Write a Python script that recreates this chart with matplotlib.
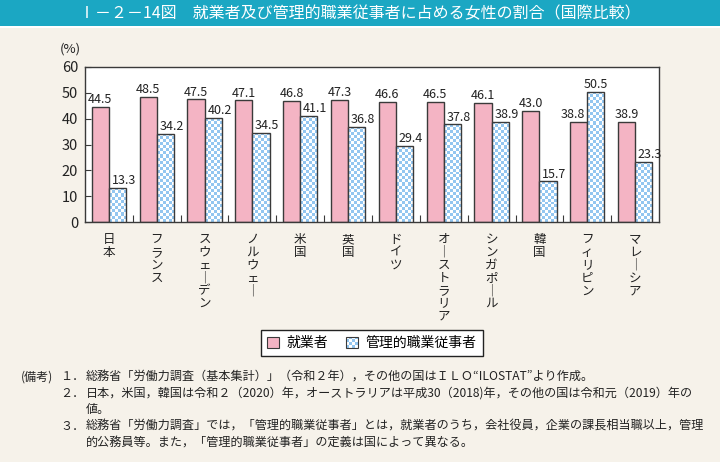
import numpy as np
import matplotlib
matplotlib.use("Agg")
import matplotlib.pyplot as plt
from matplotlib.patches import Rectangle
from matplotlib.legend_handler import HandlerBase

plt.rcParams['font.family'] = ['Noto Sans CJK JP', 'DejaVu Sans']

countries = ["日本", "フランス", "スウェーデン", "ノルウェー", "米国", "英国", "ドイツ",
             "オーストラリア", "シンガポール", "韓国", "フィリピン", "マレーシア"]
workers = [44.5, 48.5, 47.5, 47.1, 46.8, 47.3, 46.6, 46.5, 46.1, 43.0, 38.8, 38.9]
managers = [13.3, 34.2, 40.2, 34.5, 41.1, 36.8, 29.4, 37.8, 38.9, 15.7, 50.5, 23.3]
series_names = ["就業者", "管理的職業従事者"]
yticks = [0, 10, 20, 30, 40, 50, 60]

title = "Ⅰ－２－14図　就業者及び管理的職業従事者に占める女性の割合（国際比較）"
notes = [
    ("(備考)", "１．", "総務省「労働力調査（基本集計）」（令和２年），その他の国はＩＬＯ“ILOSTAT”より作成。"),
    ("", "２．", "日本，米国，韓国は令和２（2020）年，オーストラリアは平成30（2018)年，その他の国は令和元（2019）年の"),
    ("", "", "値。"),
    ("", "３．", "総務省「労働力調査」では，「管理的職業従事者」とは，就業者のうち，会社役員，企業の課長相当職以上，管理"),
    ("", "", "的公務員等。また，「管理的職業従事者」の定義は国によって異なる。"),
]

BG = "#f6f2ea"
TEAL = "#1ba7c3"
PINK = "#f4b4c4"
BLUE = "#93c6f0"
EDGE = "#3a3a3a"

W, H = 720, 462
fig = plt.figure(figsize=(W / 100, H / 100), dpi=100, facecolor=BG)

# title bar
fig.patches.append(Rectangle((0, 1 - 26 / H), 1, 26 / H, transform=fig.transFigure,
                             facecolor=TEAL, edgecolor="none", zorder=0))
fig.patches.append(Rectangle((0, 1 - 28 / H), 1, 2 / H, transform=fig.transFigure,
                             facecolor="white", edgecolor="none", zorder=0))
fig.text(0.5, 1 - 13.5 / H, title, ha="center", va="center", color="white", fontsize=11.5)

ax_l, ax_r, ax_t, ax_b = 85, 659, 67, 222
ax = fig.add_axes([ax_l / W, 1 - ax_b / H, (ax_r - ax_l) / W, (ax_b - ax_t) / H])
ax.set_facecolor("white")

n = len(countries)
x = np.arange(n)
bw = 0.36
ax.set_xlim(-0.5, n - 0.5)
ax.set_ylim(0, 60)

pink_bars = ax.bar(x - bw / 2, workers, bw, color=PINK, edgecolor=EDGE, linewidth=1.0, zorder=2)
blue_bars = ax.bar(x + bw / 2, managers, bw, color="white", edgecolor=EDGE, linewidth=1.0, zorder=4)

# checker fill for manager bars
fig.canvas.draw()
cell = 3.0
c_blue = np.array(matplotlib.colors.to_rgb(BLUE))
c_white = np.array([1.0, 1.0, 1.0])
for b, v in zip(blue_bars, managers):
    x0 = b.get_x()
    x1 = x0 + b.get_width()
    p0 = ax.transData.transform((x0, 0))
    p1 = ax.transData.transform((x1, v))
    nx = max(1, int(round((p1[0] - p0[0]) / cell)))
    ny = max(1, int(round((p1[1] - p0[1]) / cell)))
    yy, xx = np.mgrid[0:ny, 0:nx]
    chk = (xx + yy) % 2
    img = np.zeros((ny, nx, 3))
    img[chk == 0] = c_blue
    img[chk == 1] = c_white
    im = ax.imshow(img, extent=(x0, x1, 0, v), origin="lower", aspect="auto",
                   interpolation="nearest", zorder=3)
    im.set_clip_path(b)
    b.set_facecolor("none")

ax.set_xlim(-0.5, n - 0.5)
ax.set_ylim(0, 60)

# value labels
def label(bar, val, dx):
    ax.annotate(f"{val:.1f}", (bar.get_x() + bar.get_width() / 2, val),
                xytext=(dx, 0.5), textcoords="offset points", ha="center", va="bottom",
                fontsize=9, color="#222222", zorder=6)

shift = 4.5
for pb, bb, w, m in zip(pink_bars, blue_bars, workers, managers):
    if w >= m:
        label(pb, w, 0)
        label(bb, m, shift)
    else:
        label(pb, w, -shift)
        label(bb, m, 0)

# axes styling
ax.set_yticks(yticks)
ax.set_yticklabels([str(t) for t in yticks], fontsize=10.5, color="#222222")
ax.tick_params(axis="y", direction="in", length=4, width=0.8, color=EDGE, pad=5)
ax.set_xticks(x)
ax.set_xticklabels(["\n".join(c.replace("ー", "｜")) for c in countries],
                   fontsize=9, color="#222222", linespacing=0.98, va="top")
ax.tick_params(axis="x", which="major", length=0, pad=8)
ax.set_xticks(x[:-1] + 0.5, minor=True)
ax.tick_params(axis="x", which="minor", direction="in", length=5, width=0.8, color=EDGE)
for s in ax.spines.values():
    s.set_color(EDGE)
    s.set_linewidth(1.0)

fig.text(70 / W, 1 - 49 / H, "(%)", ha="center", va="center", fontsize=9.5, color="#222222")

# legend with checker handle
class CheckerHandle:
    pass

class HandlerChecker(HandlerBase):
    def create_artists(self, legend, orig_handle, xdescent, ydescent, width, height, fontsize, trans):
        arts = []
        k = 4
        cw, ch = width / k, height / k
        for i in range(k):
            for j in range(k):
                col = BLUE if (i + j) % 2 == 0 else "white"
                r = Rectangle((-xdescent + i * cw, -ydescent + j * ch), cw, ch,
                              facecolor=col, edgecolor="none", transform=trans)
                arts.append(r)
        arts.append(Rectangle((-xdescent, -ydescent), width, height, facecolor="none",
                              edgecolor=EDGE, linewidth=0.8, transform=trans))
        return arts

pink_handle = Rectangle((0, 0), 1, 1, facecolor=PINK, edgecolor=EDGE, linewidth=0.8)
leg = fig.legend([pink_handle, CheckerHandle()], series_names,
                 handler_map={CheckerHandle: HandlerChecker()},
                 loc="center", bbox_to_anchor=(372 / W, 1 - 343 / H), ncol=2,
                 fontsize=10, frameon=True, fancybox=False, edgecolor="#222222",
                 facecolor="white", framealpha=1, handlelength=0.85, handleheight=0.85,
                 handletextpad=0.55, columnspacing=1.3, borderpad=0.45, borderaxespad=0)
leg.get_frame().set_linewidth(1.0)

# notes
fs_note = 8.7
ys = [377, 393.5, 410, 426.5, 443]
for (a, b, c), yv in zip(notes, ys):
    if a:
        fig.text(21 / W, 1 - yv / H, a, ha="left", va="center", fontsize=fs_note, color="#222222")
    if b:
        fig.text(60 / W, 1 - yv / H, b, ha="left", va="center", fontsize=fs_note, color="#222222")
    fig.text(86 / W, 1 - yv / H, c, ha="left", va="center", fontsize=fs_note, color="#222222")

fig.savefig("out.png", dpi=100, facecolor=BG)
